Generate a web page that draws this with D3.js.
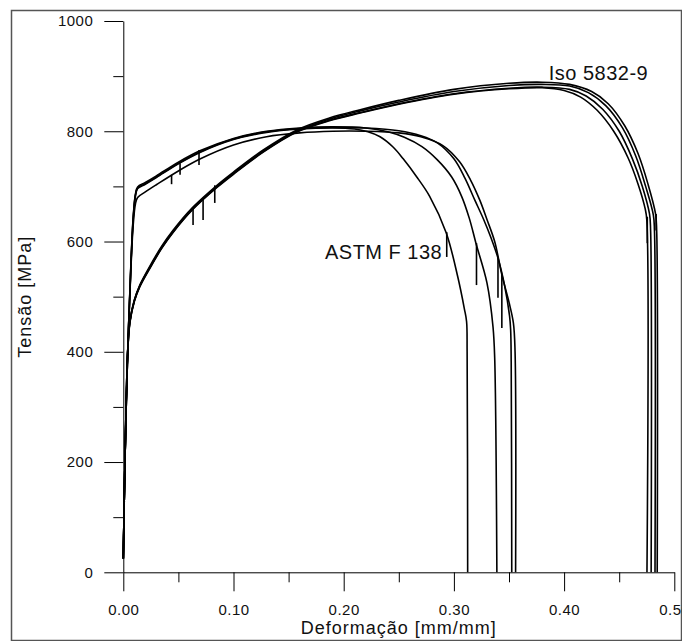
<!DOCTYPE html>
<html>
<head>
<meta charset="utf-8">
<script src="https://cdn.jsdelivr.net/npm/d3@7"></script>
<style>
  body { margin: 0; background: #fff; }
  svg { display: block; }
  text { font-family: Arial, "Liberation Sans", sans-serif; fill: #111; }
</style>
</head>
<body>
<div id="chart-area"></div>
<script>
// ---- data: [strain (mm/mm), stress (MPa)] ----
var astm1 = [[0,25],[0.0015,200],[0.004,400],[0.007,560],[0.009,640],[0.011,682],[0.013,696],[0.02,704],[0.03,716],[0.05,741],[0.07,762],[0.10,785],[0.13,798],[0.16,804],[0.19,806],[0.21,804],[0.222,799],[0.233,790],[0.245,771],[0.254,750],[0.266,718],[0.278,682],[0.293,616],[0.3035,536],[0.3095,478],[0.3115,455],[0.312,400],[0.3125,0]];
var astm2 = [[0,25],[0.0015,200],[0.004,400],[0.007,565],[0.009,645],[0.011,686],[0.013,699],[0.02,707],[0.03,719],[0.05,744],[0.07,765],[0.10,787],[0.13,800],[0.16,806],[0.19,808],[0.22,806],[0.24,799],[0.255,789],[0.271,772],[0.285,748],[0.298,717],[0.307,682],[0.314,642],[0.320,597],[0.330,525],[0.3355,445],[0.337,390],[0.339,0]];
var astm3 = [[0,25],[0.0015,200],[0.004,400],[0.007,562],[0.009,643],[0.011,684],[0.013,697],[0.02,705],[0.03,717],[0.05,742],[0.07,763],[0.10,786],[0.13,799],[0.16,805],[0.19,807],[0.22,806],[0.25,801],[0.27,792],[0.285,779],[0.30,750],[0.31,715],[0.319,675],[0.327,640],[0.334,605],[0.340,570],[0.346,520],[0.3505,465],[0.3515,440],[0.352,380],[0.3525,0]];
var astm4 = [[0,25],[0.0015,200],[0.004,400],[0.007,555],[0.009,630],[0.011,668],[0.013,680],[0.02,690],[0.03,703],[0.05,728],[0.07,750],[0.10,775],[0.13,790],[0.16,797],[0.19,800],[0.22,800],[0.25,797],[0.27,790],[0.29,774],[0.305,745],[0.315,712],[0.3235,675],[0.33,640],[0.337,600],[0.3435,540],[0.35,490],[0.354,452],[0.3555,400],[0.356,0]];

var iso1 = [[0,25],[0.0015,200],[0.004,400],[0.006,453],[0.01,491],[0.015,518],[0.024,551],[0.035,588],[0.045,616],[0.063,658],[0.085,698],[0.10,722],[0.127,762],[0.157,798],[0.187,819],[0.215,833],[0.25,849],[0.30,867],[0.35,877],[0.38,879],[0.40,874],[0.415,862],[0.43,838],[0.445,800],[0.458,752],[0.467,705],[0.4735,660],[0.475,640],[0.4752,0]];
var iso2 = [[0,25],[0.0015,200],[0.004,400],[0.006,454],[0.01,492],[0.015,519],[0.024,552],[0.035,589],[0.045,617],[0.063,659],[0.085,699],[0.10,723],[0.127,763],[0.157,799],[0.187,820],[0.215,834],[0.25,850],[0.30,868],[0.35,878],[0.38,880],[0.405,876],[0.42,864],[0.435,840],[0.45,800],[0.462,750],[0.471,700],[0.4775,650],[0.4785,620],[0.479,0]];
var iso3 = [[0,25],[0.0015,200],[0.004,400],[0.006,455],[0.01,493],[0.015,520],[0.024,553],[0.035,590],[0.045,618],[0.063,660],[0.085,700],[0.10,724],[0.127,764],[0.157,800],[0.187,822],[0.215,837],[0.25,853],[0.30,872],[0.35,883],[0.38,885],[0.405,882],[0.422,870],[0.438,846],[0.453,806],[0.465,755],[0.474,700],[0.481,648],[0.482,620],[0.4825,0]];
var iso4 = [[0,25],[0.0015,200],[0.004,400],[0.006,456],[0.01,494],[0.015,521],[0.024,555],[0.035,592],[0.045,620],[0.063,662],[0.085,702],[0.10,726],[0.127,766],[0.157,802],[0.187,824],[0.215,839],[0.25,856],[0.30,876],[0.35,887],[0.38,889],[0.405,885],[0.425,872],[0.44,850],[0.455,810],[0.467,760],[0.476,705],[0.483,650],[0.484,620],[0.4845,0]];

// extensometer marks: [strain, stress top, stress bottom]
var spikes = [[0.0438,721,704],[0.0515,742,721],[0.0687,766,739],
              [0.0633,660,630],[0.0724,676,639],[0.083,702,670],
              [0.2935,617,572],[0.3205,597,521],[0.340,572,498],[0.3435,540,443],
              [0.4755,645,597],[0.4835,650,620]];

// label text, strain, stress at text baseline start
var curveLabels = [["ASTM F 138",0.183,568],["Iso 5832-9",0.386,893]];

var yMajor = [0,200,400,600,800,1000];
var yMinor = [100,300,500,700,900];
var xMajor = [0,0.1,0.2,0.3,0.4,0.5];
var xMinor = [0.05,0.15,0.25,0.35,0.45];

var svgWidth = 682, svgHeight = 641;
var margin = { top: 21, right: 7.7, bottom: 68.7, left: 123.3 };

var svg = d3.select("#chart-area").append("svg")
  .attr("width", svgWidth)
  .attr("height", svgHeight);

var x = d3.scaleLinear().domain([0, 0.5]).range([margin.left, svgWidth - margin.right]);
var y = d3.scaleLinear().domain([0, 1000]).range([svgHeight - margin.bottom, margin.top]);

// outer frame
svg.append("rect")
  .attr("x", 11.5).attr("y", 10.5)
  .attr("width", 670).attr("height", 630)
  .attr("fill", "none")
  .attr("stroke", "#555")
  .attr("stroke-width", 1.5);

// axes: major ticks with labels, minor ticks without
function styleAxis(g) {
  g.select(".domain").attr("stroke", "#000");
  g.selectAll(".tick line").attr("stroke", "#000");
  g.selectAll(".tick text")
    .style("font-size", "15px")
    .style("letter-spacing", "0.5px")
    .attr("fill", "#111");
}

svg.append("g")
  .attr("transform", "translate(" + margin.left + ",0)")
  .call(d3.axisLeft(y).tickValues(yMinor).tickSize(10).tickFormat(""))
  .call(g => g.select(".domain").remove())
  .call(g => g.selectAll(".tick line").attr("stroke", "#000"));

svg.append("g")
  .attr("transform", "translate(0," + y(0) + ")")
  .call(d3.axisBottom(x).tickValues(xMinor).tickSize(10).tickFormat(""))
  .call(g => g.select(".domain").remove())
  .call(g => g.selectAll(".tick line").attr("stroke", "#000"));

svg.append("g")
  .attr("transform", "translate(" + margin.left + ",0)")
  .call(d3.axisLeft(y).tickValues(yMajor).tickSize(19).tickSizeOuter(0).tickPadding(11).tickFormat(d3.format("d")))
  .call(styleAxis);

svg.append("g")
  .attr("transform", "translate(0," + y(0) + ")")
  .call(d3.axisBottom(x).tickValues(xMajor).tickSize(19).tickSizeOuter(0).tickPadding(13).tickFormat(d3.format(".2f")))
  .call(styleAxis);

// axis titles
svg.append("text")
  .attr("x", (x(0) + x(0.5)) / 2)
  .attr("y", 634)
  .attr("text-anchor", "middle")
  .style("font-size", "18px")
  .style("letter-spacing", "1px")
  .text("Deformação [mm/mm]");

svg.append("text")
  .attr("transform", "translate(31," + (y(0) + y(1000)) / 2 + ") rotate(-90)")
  .attr("text-anchor", "middle")
  .style("font-size", "18px")
  .style("letter-spacing", "1px")
  .text("Tensão [MPa]");

// curves
var line = d3.line()
  .x(d => x(d[0]))
  .y(d => y(d[1]))
  .curve(d3.curveCatmullRom.alpha(0.5));

var series = [astm1, astm2, astm3, astm4, iso1, iso2, iso3, iso4];

svg.append("g")
  .selectAll("path")
  .data(series)
  .join("path")
    .attr("d", line)
    .attr("fill", "none")
    .attr("stroke", "#000")
    .attr("stroke-width", 1.6);

svg.append("g")
  .selectAll("line")
  .data(spikes)
  .join("line")
    .attr("x1", d => x(d[0]))
    .attr("x2", d => x(d[0]))
    .attr("y1", d => y(d[1]))
    .attr("y2", d => y(d[2]))
    .attr("stroke", "#000")
    .attr("stroke-width", 1.6);

svg.append("g")
  .selectAll("text")
  .data(curveLabels)
  .join("text")
    .attr("x", d => x(d[1]))
    .attr("y", d => y(d[2]))
    .style("font-size", "20px")
    .style("letter-spacing", "0.5px")
    .text(d => d[0]);
</script>
</body>
</html>
